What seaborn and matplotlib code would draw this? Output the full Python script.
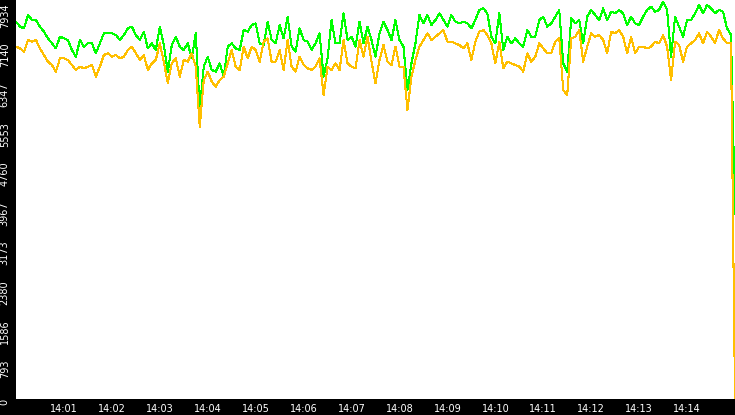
import matplotlib
matplotlib.use("Agg")
import matplotlib.pyplot as plt
import matplotlib.dates as mdates
import numpy as np
import pandas as pd
import seaborn as sns

# ---- data ----
green_vals = [
    7560,7460,7426,7693,7593,7593,7460,7359,7226,7126,7025,7259,7226,7192,6992,6858,7192,7059,7126,7126,6925,7126,7326,7326,7326,7293,7192,7293,7426,7460,
    7293,7192,7359,7025,7126,6992,7460,7092,6558,7092,7259,7059,6992,7126,6825,7326,5790,6658,6858,6592,6558,6725,6458,7059,7126,7025,6992,7393,7359,7493,
    7526,7126,7092,7560,7192,7126,7493,7226,7660,7059,6959,7426,7192,7159,6992,7126,7326,6458,6825,7593,7126,7126,7727,7192,7259,7059,7560,7126,7460,7192,
    6858,7326,7560,7393,7192,7593,7192,7059,6191,6725,7126,7693,7526,7693,7493,7593,7727,7593,7460,7693,7560,7526,7560,7526,7426,7593,7794,7827,7727,7259,
    7126,7727,6992,7259,7126,7226,7126,7059,7393,7259,7259,7593,7660,7460,7526,7660,7794,6725,6558,7627,7526,7593,7126,7660,7794,7693,7593,7827,7593,7760,
    7727,7794,7727,7493,7660,7526,7493,7660,7794,7860,7760,7794,7961,7794,6858,7660,7460,7259,7593,7593,7727,7894,7727,7894,7827,7727,7794,7760,7426,7300,
    3700,
]
orange_vals = [
    7059,7025,6959,7192,7159,7192,7025,6892,6758,6692,6558,6825,6825,6792,6692,6592,6658,6625,6658,6692,6458,6658,6892,6925,6858,6892,6825,6858,6992,7059,
    6925,6792,6892,6592,6725,6792,7126,6758,6324,6725,6825,6458,6792,6758,6925,6658,5456,6391,6558,6358,6258,6391,6458,6725,6992,6658,6592,7059,6825,7059,
    6992,6758,7159,7226,6758,6758,6992,6592,7192,6658,6558,6858,6692,6625,6592,6658,6825,6091,6658,6592,6725,6592,7192,6725,6658,6625,7192,6858,7259,6758,
    6324,6792,7092,6758,6692,7059,6658,6658,5790,6458,6792,7059,7192,7326,7192,7259,7326,7393,7159,7159,7126,7092,7025,7126,6792,7159,7359,7393,7293,7126,
    6725,7159,6625,6758,6725,6692,6658,6558,6925,6758,6858,7126,7025,6925,6925,7159,7226,6191,6091,7226,7259,7393,6758,7059,7326,7259,7293,7192,6925,7359,
    7326,7393,7259,6925,7259,6925,7059,7059,7025,7059,7159,7126,7293,7059,6391,7159,7092,6758,7059,7126,7192,7326,7126,7359,7259,7126,7393,7226,7126,7126,
    0,
]
y_ticks = [0, 793, 1586, 2380, 3173, 3967, 4760, 5553, 6347, 7140, 7934]
y_tick_labels = ["0", "793", "1586", "2380", "3173", "3967", "4760", "5553", "6347", "7140", "7934"]

start = pd.Timestamp("2024-01-01 14:00:00")
times = pd.date_range(start, periods=len(green_vals), freq="5s")

df_green = pd.DataFrame({"time": times, "value": green_vals})
df_orange = pd.DataFrame({"time": times, "value": orange_vals})

# ---- figure ----
sns.set_style("white")
plt.rcParams["font.family"] = ["DejaVu Sans"]

W, H = 735, 415
fig = plt.figure(figsize=(W / 100, H / 100), dpi=100, facecolor="black")
ax = fig.add_axes([16 / W, 16 / H, 719 / W, 399 / H])
ax.set_facecolor("white")

sns.lineplot(data=df_green, x="time", y="value", ax=ax, color="#00ff00",
             linewidth=0.75, antialiased=False)
sns.lineplot(data=df_orange, x="time", y="value", ax=ax, color="#ffbf00",
             linewidth=0.75, antialiased=False)

ax.set_xlim(start, start + pd.Timedelta(minutes=15))
ax.set_ylim(0, 7994)

ax.xaxis.set_major_locator(mdates.MinuteLocator(byminute=range(1, 15)))
ax.xaxis.set_major_formatter(mdates.DateFormatter("%H:%M"))
ax.set_yticks(y_ticks)
ax.set_yticklabels(y_tick_labels, rotation=90, va="top")

ax.tick_params(axis="both", colors="white", labelcolor="white", labelsize=7,
               direction="out", length=3.5, width=1, pad=1)
ax.tick_params(axis="x", length=3, pad=0.3)
ax.set_xlabel("")
ax.set_ylabel("")
for s in ax.spines.values():
    s.set_visible(False)
ax.grid(False)

fig.savefig("out.png", dpi=100, facecolor="black")
